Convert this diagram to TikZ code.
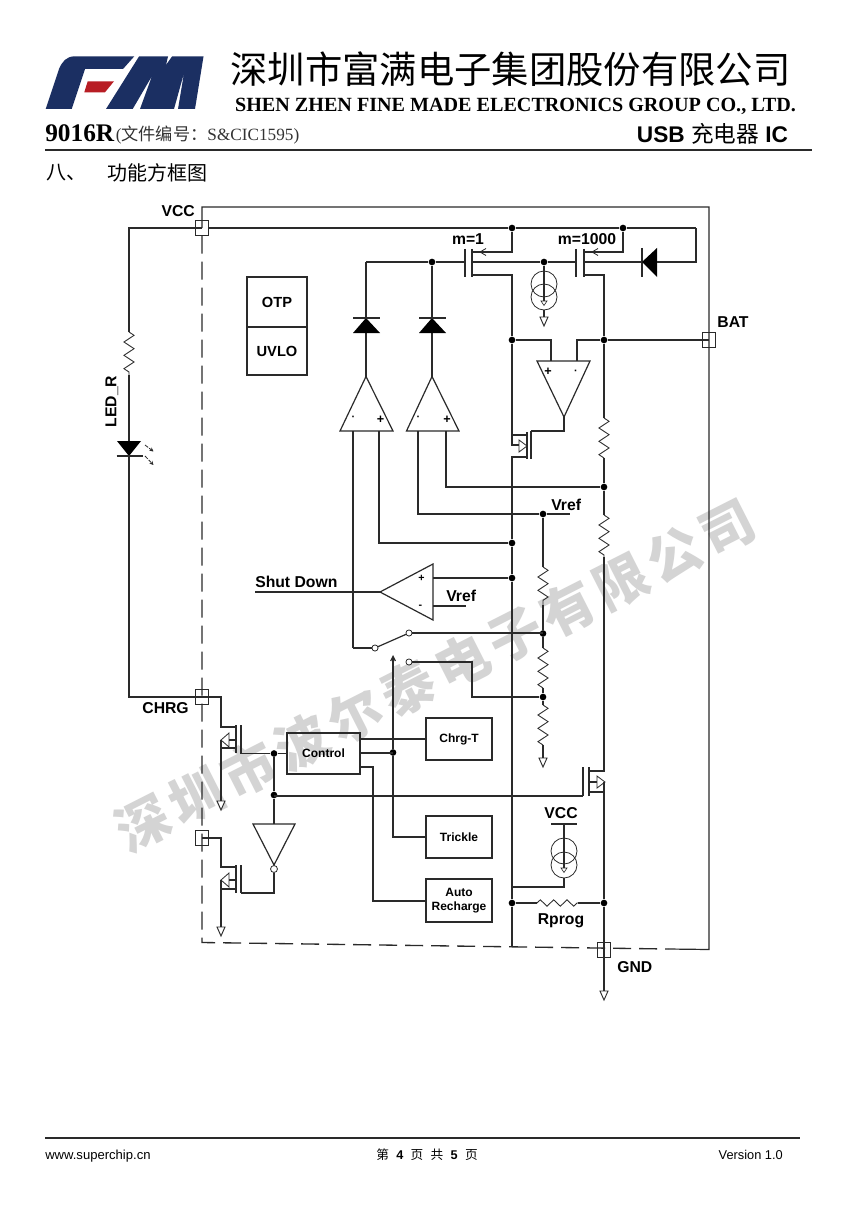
\documentclass[tikz,border=0pt]{standalone}
\usepackage{fontspec}
\setmainfont{Liberation Serif}
\setsansfont{Liberation Sans}
\newfontfamily\cjk{Noto Sans CJK SC}
\usetikzlibrary{arrows.meta,decorations.pathmorphing}
\newcommand\fs[1]{\fontsize{#1}{#1}\selectfont}
\definecolor{ink}{HTML}{2A2A2A}
\definecolor{navy}{HTML}{1B2F62}
\definecolor{logored}{HTML}{B81D24}
\tikzset{
 wire/.style={draw=ink,line width=0.9pt,line join=miter},
 plate/.style={draw=ink,line width=1.05pt},
 zig/.style={wire,line width=0.65pt,decorate,decoration={zigzag,segment length=10pt,amplitude=3.8pt}},
 zigsmall/.style={wire,line width=0.65pt,decorate,decoration={zigzag,segment length=10pt,amplitude=2.4pt}},
 hollow/.style={draw=ink,line width=0.7pt,fill=white},
 junc/.style={circle,fill=black,inner sep=0pt,minimum size=5pt},
 open/.style={circle,draw=ink,line width=0.6pt,fill=white,inner sep=0pt,minimum size=4.6pt},
 pad/.style={draw=ink,line width=0.7pt,inner sep=0pt,minimum width=9.8pt,minimum height=10.8pt},
 blk/.style 2 args={draw=ink,line width=0.85pt,inner sep=0pt,minimum width=#1*0.75pt,minimum height=#2*0.75pt,font=\sffamily\bfseries\fs{9}},
 lbl/.style={inner sep=0pt,font=\sffamily\bfseries\fs{11.8},text=black},
 sign/.style={inner sep=0pt,font=\sffamily\bfseries\fs{8},text=black},
 gnd/.pic={\draw[hollow] (-4,0)--(4,0)--(0,9)--cycle;},
 hdr/.style={inner sep=0pt,text=black},
}
\begin{document}
\begin{tikzpicture}[x=0.75pt,y=-0.75pt]
\useasboundingbox (0,0) rectangle (860,1216);
\fill[white] (0,0) rectangle (860,1216);

% watermark
\node[inner sep=0pt,rotate=26.9,text=black!17,font=\cjk\bfseries\fs{40}] (wm) at (435,675)
 {深\kern4.6pt 圳\kern4.6pt 市\kern4.6pt 波\kern4.6pt 尔\kern4.6pt 泰\kern4.6pt 电\kern4.6pt 子\kern4.6pt 有\kern4.6pt 限\kern4.6pt 公\kern4.6pt 司};

% logo
\fill[navy] (45.7,109) -- (59,69) .. controls (62,62) and (66,56.3) .. (75,56.3) -- (134.3,56.3)
 -- (123,69) -- (85,69) -- (71.7,109) -- cycle;
\fill[logored] (87.7,81.3) -- (114,81.3) -- (105,92.3) -- (84.3,92.3) -- cycle;
\fill[navy] (106,109) -- (139,56.5) -- (168,56.5) -- (166,65) -- (172,56.5) -- (203.5,56.5) -- (195,109)
 -- (178,109) -- (184,73) -- (174,109) -- (140,109) -- (152,76) -- (132.7,109) -- cycle;

% header
\node[hdr,font=\cjk\fs{28}] (title) at (510.5,69) {深圳市富满电子集团股份有限公司};
\node[hdr,font=\rmfamily\bfseries\fs{15.1}] (subtitle) at (515.5,106) {SHEN ZHEN FINE MADE ELECTRONICS GROUP CO., LTD.};
\node[hdr,anchor=west,font=\rmfamily\bfseries\fs{19}] (part) at (45,133) {9016R};
\node[hdr,anchor=west,text=black!80,font=\rmfamily\fs{12.9}] (docno) at (115.5,135) {({\cjk 文件编号：}S\&CIC1595)};
\node[hdr,font=\sffamily\bfseries\fs{17}] (usb) at (712.5,134) {USB {\cjk\mdseries 充电器} IC};
\draw[line width=1.5pt,draw=ink] (45,150) -- (811.5,150);
\node[hdr,anchor=west,font=\cjk\fs{15}] (sec) at (46,173) {八、};
\node[hdr,anchor=west,font=\cjk\fs{15}] (sectitle) at (107,173) {功能方框图};

% footer
\draw[line width=1.5pt,draw=ink] (45,1138) -- (800,1138);
\node[hdr,anchor=west,font=\sffamily\fs{9.8}] (url) at (45,1156) {www.superchip.cn};
\node[hdr,font=\cjk\fs{9.5}] (pg) at (427,1154.5) {第\kern5.5pt{\sffamily\bfseries 4}\kern5.5pt 页\kern5.5pt 共\kern5.5pt{\sffamily\bfseries 5}\kern5.5pt 页};
\node[hdr,anchor=east,font=\sffamily\fs{9.6}] (ver) at (783,1154.5) {Version 1.0};

% chip outline
\node[pad] (pVCC) at (202,228) {};
\node[pad] (pCHRG) at (202,697) {};
\node[pad] (pGATE) at (202,838) {};
\node[pad] (pBAT) at (709,340) {};
\node[pad] (pGND) at (604,950) {};
\coordinate (tl) at (202,207);
\coordinate (tr) at (709,207);
\coordinate (br) at (709,949.5);
\coordinate (bd) at (668,949);
\coordinate (bl) at (202,942.5);
\draw[wire] (pVCC.center) -- (tl) -- (tr) -- (br) -- (bd);
\draw[wire,line width=1pt,dash pattern=on 13.5pt off 6pt] (pVCC.south) -- (bl) -- (bd);

% blocks
\node[blk={60}{50}] (otp) at (277,302) {\fs{11}OTP};
\node[blk={60}{48}] (uvlo) at (277,351) {\fs{11}UVLO};
\node[blk={73}{41}] (ctl) at (323.5,753.5) {Control};
\node[blk={66}{42}] (chgt) at (459,739) {Chrg-T};
\node[blk={66}{42}] (trk) at (459,837) {Trickle};
\node[blk={66}{43},align=center] (auto) at (459,900.5) {Auto\\[1.5pt]Recharge};

% junctions
\node[junc] (jA) at (512,228) {};
\node[junc] (jB) at (623,228) {};
\node[junc] (jG1) at (432,262) {};
\node[junc] (jG2) at (544,262) {};
\node[junc] (jL1) at (512,340) {};
\node[junc] (jR1) at (604,340) {};
\node[junc] (jR2) at (604,487) {};
\node[junc] (jRef) at (543,514) {};
\node[junc] (jL2) at (512,543) {};
\node[junc] (jL3) at (512,578) {};
\node[junc] (jT1) at (543,633.5) {};
\node[junc] (jT2) at (543,697) {};
\node[junc] (jC1) at (274,753.5) {};
\node[junc] (jC2) at (393,752.5) {};
\node[junc] (jC3) at (274,795) {};
\node[junc] (jP1) at (512,903) {};
\node[junc] (jP2) at (604,903) {};

% VCC rail and LED branch
\coordinate (vL) at (129,228);
\coordinate (vR) at (696,228);
\coordinate (rLa) at (129,332);
\coordinate (rLb) at (129,375);
\coordinate (ledT) at (129,441);
\coordinate (ledB) at (129,456);
\coordinate (cL) at (129,697);
\draw[wire] (vR) -- (jB) -- (jA) -- (pVCC) -- (pVCC.center) -- (vL) -- (rLa);
\draw[zig] (rLa) -- (rLb);
\draw[wire] (rLb) -- (ledT) (ledB) -- (cL) -- (pCHRG.center);
\fill[black] (117,441) -- (141,441) -- (ledB) -- cycle;
\draw[plate,line width=1.2pt] (116.5,456) -- (142.5,456);
\draw[wire,line width=0.6pt,dash pattern=on 3pt off 1pt,-{Stealth[length=3pt,width=3pt]}] (145,445) -- (153.5,451.5);
\draw[wire,line width=0.6pt,dash pattern=on 3pt off 1pt,-{Stealth[length=3pt,width=3pt]}] (145,456) -- (153.5,465);
\node[lbl,rotate=90] (ledr) at (112,401.5) {LED\_R};
\node[lbl,anchor=east] (tVCC) at (195,211) {VCC};
\node[lbl] (tBAT) at (733,322) {BAT};
\node[lbl,anchor=east] (tCHRG) at (189,708) {CHRG};
\node[lbl,anchor=west] (tGND) at (617,967) {GND};

% top PMOS pair
\coordinate (gA) at (366,262);
\coordinate (s1) at (472,252);
\coordinate (s1b) at (512,252);
\coordinate (d1) at (472,275);
\coordinate (d1b) at (512,275);
\coordinate (s2) at (584,252);
\coordinate (s2b) at (623,252);
\coordinate (d2) at (584,275);
\coordinate (d2b) at (604,275);
\coordinate (ch1) at (472,262);
\coordinate (ch2) at (584,262);
\coordinate (dk) at (642,262);
\coordinate (dk2) at (657,262);
\coordinate (vR2) at (696,262);
\draw[wire] (gA) -- (jG1) -- (465,262);
\draw[plate] (465,249) -- (465,277);
\draw[plate] (472,249) -- (472,277);
\draw[plate] (576,249) -- (576,277);
\draw[plate] (584,249) -- (584,277);
\draw[wire] (ch1) -- (jG2) -- (576,262);
\draw[wire] (ch2) -- (dk);
\draw[plate,line width=1.2pt] (642,248) -- (642,277);
\fill[black] (dk) -- (657,248) -- (657,277) -- cycle;
\draw[wire] (dk2) -- (vR2) -- (vR);
\draw[wire] (s1) -- (s1b) -- (jA);
\draw[wire] (s2) -- (s2b) -- (jB);
\draw[wire,line width=0.6pt] (486,248.5) -- (480,252) -- (486,255.5);
\draw[wire,line width=0.6pt] (598,248.5) -- (592,252) -- (598,255.5);
\draw[wire] (d2) -- (d2b) -- (jR1);
\node[lbl] (m1) at (468,239) {m=1};
\node[lbl] (m1000) at (587,239) {m=1000};

% current source under the gate line
\draw[wire,line width=0.6pt] (544,284) circle[radius=13];
\draw[wire,line width=0.6pt] (544,297) circle[radius=13];
\coordinate (csT) at (544,301);
\draw[wire] (jG2) -- (csT);
\draw[hollow,line width=0.5pt] (541,301) -- (547,301) -- (544,305.5) -- cycle;
\coordinate (g1) at (544,317);
\draw[wire] (544,310) -- (g1);
\pic at (g1) {gnd};

% main left rail with regulating NMOS
\coordinate (q1d) at (527,435);
\coordinate (q1rail) at (512,435);
\coordinate (q1b) at (512,445);
\coordinate (q1s) at (527,457);
\coordinate (q1sr) at (512,457);
\coordinate (q1g) at (531,431);
\coordinate (railEnd) at (512,947);
\draw[wire] (d1) -- (d1b) -- (jL1) -- (q1rail) -- (q1d);
\draw[wire] (q1rail) -- (q1b) -- (519,445);
\draw[hollow,line width=0.6pt] (519,440) -- (519,452) -- (527,446) -- cycle;
\draw[wire] (q1s) -- (q1sr) -- (jL2) -- (jL3) -- (jP1) -- (railEnd);
\draw[plate] (527,432) -- (527,459);
\draw[plate] (531,431) -- (531,459);

% error amplifier
\coordinate (eaL) at (537,361);
\coordinate (eaR) at (590,361);
\coordinate (eaO) at (564,417);
\coordinate (eaP) at (551,361);
\coordinate (eaN) at (577,361);
\draw[wire] (eaL) -- (eaR) -- (eaO) -- cycle;
\draw[wire] (jL1) -| (eaP);
\draw[wire] (jR1) -| (eaN);
\draw[wire] (eaO) -- (564,431) -- (q1g);
\node[sign,font=\sffamily\bfseries\fs{9.5}] (ep) at (548,372) {+};
\node[sign] (em) at (576,372.5) {·};
\draw[wire] (jR1) -- (pBAT.center);

% right resistor string and power NMOS
\coordinate (r1a) at (604,418);
\coordinate (r1b) at (604,458);
\coordinate (r2a) at (604,515);
\coordinate (r2b) at (604,557);
\coordinate (q2d) at (589,771);
\coordinate (q2dr) at (604,771);
\coordinate (q2s) at (589,792);
\coordinate (q2sr) at (604,792);
\coordinate (q2g) at (583,796);
\draw[wire] (jR1) -- (r1a);
\draw[zig] (r1a) -- (r1b);
\draw[wire] (r1b) -- (jR2) -- (r2a);
\draw[zig] (r2a) -- (r2b);
\draw[wire] (r2b) -- (q2dr) -- (q2d);
\draw[plate] (q2g) -- (583,767);
\draw[plate] (589,796) -- (589,767);
\draw[wire] (q2s) -- (q2sr) -- (jP2) -- (pGND.center);
\draw[wire] (589,782) -- (597,782);
\draw[hollow,line width=0.6pt] (597,776) -- (597,788) -- (605,782) -- cycle;
\draw[wire] (604,782) -- (q2sr);
\coordinate (g2) at (604,991);
\draw[wire] (pGND.center) -- (g2);
\pic at (g2) {gnd};

% diode-comparator pair
\coordinate (a1) at (366,376.5);
\coordinate (a1L) at (340,431);
\coordinate (a1R) at (393,431);
\coordinate (a2) at (432,376.5);
\coordinate (a2L) at (406.5,431);
\coordinate (a2R) at (459,431);
\draw[wire] (a1) -- (a1L) -- (a1R) -- cycle;
\draw[wire] (a2) -- (a2L) -- (a2R) -- cycle;
\draw[wire] (gA) -- (a1);
\draw[wire] (jG1) -- (a2);
\fill[black] (366,318) -- (353,333) -- (380,333) -- cycle;
\fill[black] (432,318) -- (419,333) -- (446,333) -- cycle;
\draw[plate,line width=1.2pt] (353,318) -- (380,318);
\draw[plate,line width=1.2pt] (419,318) -- (446,318);
\node[sign] (a1m) at (353.5,418.5) {·};
\node[sign,font=\sffamily\bfseries\fs{9.5}] (a1p) at (380.5,420) {+};
\node[sign] (a2m) at (418.5,418.5) {·};
\node[sign,font=\sffamily\bfseries\fs{9.5}] (a2p) at (447,420) {+};
\coordinate (a1mb) at (353,648);
\coordinate (a1pb) at (379,543);
\coordinate (a2mb) at (418,514);
\coordinate (a2pb) at (446,487);
\draw[wire] (353,431) -- (a1mb);
\draw[wire] (379,431) -- (a1pb) -- (jL2);
\draw[wire] (418,431) -- (a2mb) -- (jRef);
\draw[wire] (446,431) -- (a2pb) -- (jR2);
\coordinate (refEnd) at (570,514);
\draw[wire] (jRef) -- (refEnd);
\node[lbl,anchor=west] (tVr1) at (551,505) {Vref};

% shutdown comparator
\coordinate (sdA) at (380,592);
\coordinate (sdT) at (433,564);
\coordinate (sdB) at (433,620);
\coordinate (sdOut) at (255,592);
\coordinate (sdN) at (466,606);
\draw[wire] (sdA) -- (sdT) -- (sdB) -- cycle;
\draw[wire] (sdA) -- (sdOut);
\draw[wire] (433,578) -- (jL3);
\draw[wire] (433,606) -- (sdN);
\node[sign,font=\sffamily\bfseries\fs{8}] (sdp) at (421.5,578) {+};
\node[sign] (sdm) at (420.5,606.5) {-};
\node[lbl,anchor=west] (tSD) at (255,582) {Shut Down};
\node[lbl,anchor=west] (tVr2) at (446,596) {Vref};

% switch and reference ladder
\node[open] (swA) at (375,648) {};
\node[open] (swB) at (409,633) {};
\node[open] (swC) at (409,662) {};
\draw[wire] (a1mb) -- (swA);
\draw[wire] (swA) -- (swB);
\draw[wire] (swB) -- (swB -| jT1);
\coordinate (swC2) at (472,662);
\coordinate (swC3) at (472,697);
\draw[wire] (swC) -- (swC2) -- (swC3) -- (jT2);
\coordinate (r3a) at (543,567);
\coordinate (r3b) at (543,605);
\coordinate (r4a) at (543,648);
\coordinate (r4b) at (543,688);
\coordinate (r5a) at (543,705);
\coordinate (r5b) at (543,745);
\coordinate (g3) at (543,758);
\draw[wire] (jRef) -- (r3a);
\draw[zig] (r3a) -- (r3b);
\draw[wire] (r3b) -- (jT1) -- (r4a);
\draw[zig] (r4a) -- (r4b);
\draw[wire] (r4b) -- (jT2) -- (r5a);
\draw[zig] (r5a) -- (r5b);
\draw[wire] (r5b) -- (g3);
\pic at (g3) {gnd};

% control connections
\coordinate (c1) at (360,739);
\coordinate (c2) at (360,753);
\coordinate (c3) at (360,767);
\coordinate (c3a) at (373,767);
\coordinate (c3b) at (373,901);
\coordinate (trkA) at (393,837);
\coordinate (swArrow) at (393,655);
\draw[wire] (c1) -- (c1 -| chgt.west);
\draw[wire] (c2) -- (c2 -| jC2);
\draw[wire] (c3) -- (c3a) -- (c3b) -- (c3b -| auto.west);
\draw[wire] (trk.west) -- (trkA) -- (jC2);
\draw[wire,-{Straight Barb[length=3.5pt,width=3.5pt]}] (jC2) -- (swArrow);
\draw[wire] (ctl.west) -- (jC1);
\coordinate (q2gb) at (274,796);
\draw[wire] (q2gb) -- (q2g);

% output NMOS top
\coordinate (m1a) at (221,697);
\coordinate (m1b) at (221,727);
\coordinate (m1c) at (236,727);
\coordinate (m1s) at (236,748);
\coordinate (m1sr) at (221,748);
\coordinate (m1g) at (241,753.5);
\coordinate (g4) at (221,801);
\draw[wire] (pCHRG.center) -- (m1a) -- (m1b) -- (m1c);
\draw[plate] (236,725) -- (236,753);
\draw[plate] (241,725) -- (m1g);
\draw[wire] (m1g) -- (jC1);
\draw[wire] (m1s) -- (m1sr);
\draw[wire] (221,740) -- (g4);
\draw[hollow,line width=0.6pt] (229,733) -- (229,747) -- (221,740) -- cycle;
\draw[wire] (229,740) -- (236,740);
\pic at (g4) {gnd};

% inverter and output NMOS bottom
\coordinate (iL) at (253,824);
\coordinate (iR) at (295,824);
\coordinate (iA) at (274,865);
\coordinate (iT) at (274,824);
\draw[wire] (jC1) -- (jC3) -- (iT);
\draw[wire] (iL) -- (iR) -- (iA) -- cycle;
\node[open,minimum size=5.2pt] (inv) at (274,869) {};
\coordinate (m2g) at (241,893);
\coordinate (m2gr) at (274,893);
\draw[wire] (inv) -- (m2gr) -- (m2g);
\draw[plate] (236,865) -- (236,893);
\draw[plate] (241,865) -- (m2g);
\coordinate (m2a) at (221,838);
\coordinate (m2b) at (221,867);
\coordinate (m2c) at (236,867);
\coordinate (m2s) at (236,889);
\coordinate (m2sr) at (221,889);
\coordinate (g5) at (221,927);
\draw[wire] (pGATE.center) -- (m2a) -- (m2b) -- (m2c);
\draw[wire] (m2s) -- (m2sr);
\draw[wire] (221,880) -- (g5);
\draw[hollow,line width=0.6pt] (229,873) -- (229,887) -- (221,880) -- cycle;
\draw[wire] (229,880) -- (236,880);
\pic at (g5) {gnd};

% VCC current source and Rprog
\coordinate (bar1) at (551,824);
\coordinate (bar2) at (577,824);
\coordinate (barM) at (564,824);
\coordinate (csB) at (564,868);
\coordinate (csO) at (564,878);
\coordinate (csE) at (564,887);
\coordinate (csL) at (512,887);
\draw[wire] (bar1) -- (bar2);
\draw[wire] (barM) -- (csB);
\draw[wire,line width=0.6pt] (564,851) circle[radius=13];
\draw[wire,line width=0.6pt] (564,865) circle[radius=13];
\draw[hollow,line width=0.5pt] (561,868) -- (567,868) -- (564,872.5) -- cycle;
\draw[wire] (csO) -- (csE) -- (csL);
\node[lbl] (tVCC2) at (561,813) {VCC};
\coordinate (rpa) at (537,903);
\coordinate (rpb) at (578,903);
\draw[wire] (jP1) -- (rpa);
\draw[zigsmall] (rpa) -- (rpb);
\draw[wire] (rpb) -- (jP2);
\node[lbl] (tRp) at (561,921) {Rprog};
\end{tikzpicture}
\end{document}
